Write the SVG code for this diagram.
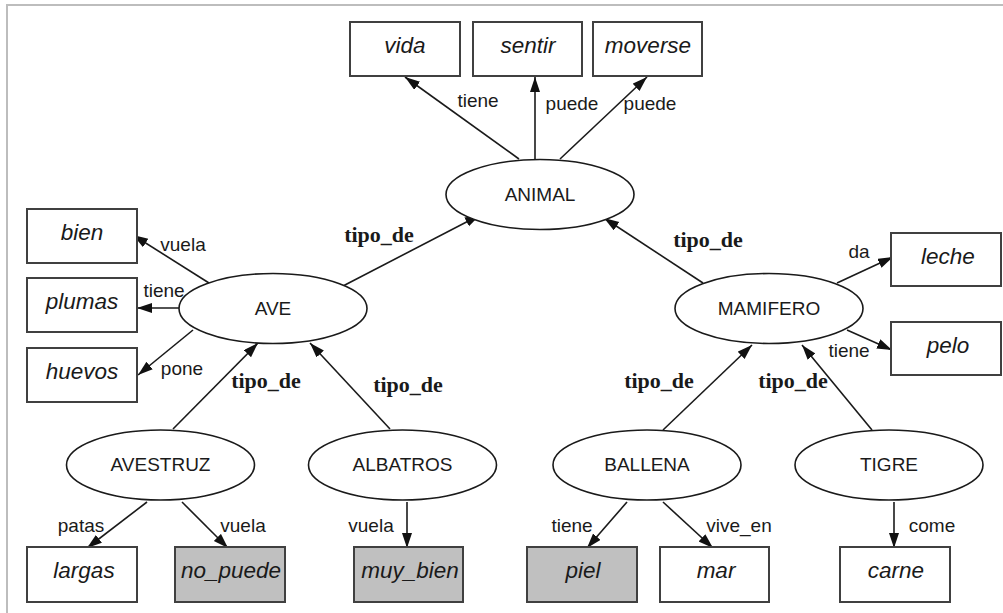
<svg xmlns="http://www.w3.org/2000/svg" width="1003" height="613" viewBox="0 0 1003 613">
<style>
.box{fill:#fff;stroke:#404040;stroke-width:2}
.box.g{fill:#c0c0c0}
.ell{fill:#fff;stroke:#1a1a1a;stroke-width:1.6}
.bl{font-family:"Liberation Sans",Arial,sans-serif;font-style:italic;font-size:22.5px;fill:#1a1a1a;text-anchor:middle}
.nl{font-family:"Liberation Sans",Arial,sans-serif;font-size:19px;fill:#1a1a1a;text-anchor:middle}
.el{font-family:"Liberation Sans",Arial,sans-serif;font-size:19px;fill:#1a1a1a;text-anchor:middle}
.td{font-family:"Liberation Serif","Times New Roman",serif;font-weight:bold;font-size:22px;fill:#1a1a1a;text-anchor:middle}
.e{stroke:#1a1a1a;stroke-width:1.6;fill:none;marker-end:url(#ah)}
</style>
<defs>
<marker id="ah" markerUnits="userSpaceOnUse" markerWidth="16" markerHeight="12" refX="15" refY="5" orient="auto">
<path d="M0,0 L15,5 L0,10 z" fill="#111"/>
</marker>
</defs>
<rect width="1003" height="613" fill="#fff"/>
<path d="M7,613 V5 H1003" fill="none" stroke="#bdbdbd" stroke-width="2"/>

<g id="connectors">
<line class="e" x1="519" y1="159" x2="405" y2="77"/>
<line class="e" x1="535" y1="159" x2="535" y2="77"/>
<line class="e" x1="560" y1="159" x2="647" y2="77"/>
<line class="e" x1="343" y1="286" x2="480" y2="215"/>
<line class="e" x1="703" y1="283" x2="604" y2="218"/>
<line class="e" x1="209" y1="283" x2="133" y2="235"/>
<line class="e" x1="180" y1="308" x2="137" y2="308"/>
<line class="e" x1="193" y1="330" x2="138" y2="375"/>
<line class="e" x1="173" y1="429" x2="258" y2="343"/>
<line class="e" x1="390" y1="429" x2="310" y2="343"/>
<line class="e" x1="147" y1="502" x2="87" y2="548"/>
<line class="e" x1="182" y1="502" x2="228" y2="548"/>
<line class="e" x1="407" y1="502" x2="407" y2="548"/>
<line class="e" x1="663" y1="430" x2="752" y2="345"/>
<line class="e" x1="872" y1="430" x2="802" y2="345"/>
<line class="e" x1="837" y1="283" x2="893" y2="257"/>
<line class="e" x1="847" y1="330" x2="892" y2="350"/>
<line class="e" x1="627" y1="502" x2="587" y2="548"/>
<line class="e" x1="663" y1="502" x2="713" y2="548"/>
<line class="e" x1="894" y1="502" x2="894" y2="548"/>
<text class="el" x="478" y="107">tiene</text>
<text class="el" x="572" y="110">puede</text>
<text class="el" x="650" y="110">puede</text>
<text class="el" x="183" y="251">vuela</text>
<text class="el" x="164" y="297">tiene</text>
<text class="el" x="182" y="375">pone</text>
<text class="el" x="81" y="532">patas</text>
<text class="el" x="243" y="532">vuela</text>
<text class="el" x="371" y="532">vuela</text>
<text class="el" x="572" y="532">tiene</text>
<text class="el" x="739" y="532">vive_en</text>
<text class="el" x="932" y="532">come</text>
<text class="el" x="859" y="258">da</text>
<text class="el" x="849" y="357">tiene</text>
<text class="td" x="379" y="242">tipo_de</text>
<text class="td" x="708" y="247">tipo_de</text>
<text class="td" x="266" y="388">tipo_de</text>
<text class="td" x="408" y="392">tipo_de</text>
<text class="td" x="659" y="388">tipo_de</text>
<text class="td" x="793" y="388">tipo_de</text>
</g>

<g id="vida"><rect class="box" x="350" y="22" width="110" height="54"/><text class="bl" x="405" y="53">vida</text></g>
<g id="sentir"><rect class="box" x="473" y="22" width="109" height="54"/><text class="bl" x="528" y="53">sentir</text></g>
<g id="moverse"><rect class="box" x="593" y="22" width="109" height="54"/><text class="bl" x="648" y="53">moverse</text></g>
<g id="ANIMAL"><ellipse class="ell" cx="540" cy="194.5" rx="94" ry="35"/><text class="nl" x="540" y="201">ANIMAL</text></g>
<g id="bien"><rect class="box" x="27" y="209" width="110" height="54"/><text class="bl" x="82" y="240">bien</text></g>
<g id="plumas"><rect class="box" x="27" y="278" width="110" height="54"/><text class="bl" x="82" y="309">plumas</text></g>
<g id="huevos"><rect class="box" x="27" y="348" width="110" height="54"/><text class="bl" x="82" y="379">huevos</text></g>
<g id="AVE"><ellipse class="ell" cx="273" cy="308.5" rx="94" ry="35"/><text class="nl" x="273" y="315">AVE</text></g>
<g id="MAMIFERO"><ellipse class="ell" cx="769" cy="308.5" rx="94" ry="35"/><text class="nl" x="769" y="315">MAMIFERO</text></g>
<g id="leche"><rect class="box" x="891" y="233" width="110" height="53"/><text class="bl" x="948" y="264">leche</text></g>
<g id="pelo"><rect class="box" x="891" y="322" width="110" height="53"/><text class="bl" x="948" y="353">pelo</text></g>
<g id="AVESTRUZ"><ellipse class="ell" cx="160.5" cy="465" rx="94" ry="35"/><text class="nl" x="160.5" y="471">AVESTRUZ</text></g>
<g id="ALBATROS"><ellipse class="ell" cx="402.5" cy="465" rx="94" ry="35"/><text class="nl" x="402.5" y="471">ALBATROS</text></g>
<g id="BALLENA"><ellipse class="ell" cx="647" cy="465" rx="94" ry="35"/><text class="nl" x="647" y="471">BALLENA</text></g>
<g id="TIGRE"><ellipse class="ell" cx="889" cy="465" rx="94" ry="35"/><text class="nl" x="889" y="471">TIGRE</text></g>
<g id="largas"><rect class="box" x="27" y="547" width="110" height="55"/><text class="bl" x="84" y="578">largas</text></g>
<g id="no_puede"><rect class="box g" x="175" y="547" width="110" height="55"/><text class="bl" x="231" y="578">no_puede</text></g>
<g id="muy_bien"><rect class="box g" x="354" y="547" width="109" height="55"/><text class="bl" x="410" y="578">muy_bien</text></g>
<g id="piel"><rect class="box g" x="527" y="547" width="110" height="55"/><text class="bl" x="583" y="578">piel</text></g>
<g id="mar"><rect class="box" x="660" y="547" width="109" height="55"/><text class="bl" x="716" y="578">mar</text></g>
<g id="carne"><rect class="box" x="840" y="547" width="110" height="55"/><text class="bl" x="896" y="578">carne</text></g>
</svg>
